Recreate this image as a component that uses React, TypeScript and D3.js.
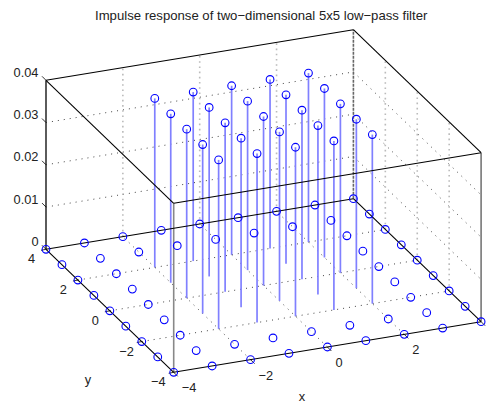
import React from "react";
import * as d3 from "d3";

const title = "Impulse response of two\u2212dimensional 5x5 low\u2212pass filter";
const gridX = [-4, -3, -2, -1, 0, 1, 2, 3, 4];
const gridY = [-4, -3, -2, -1, 0, 1, 2, 3, 4];
// h[row y][col x], rows from y=-4 to y=4
const impulse = [
  [0, 0, 0, 0, 0, 0, 0, 0, 0],
  [0, 0, 0, 0, 0, 0, 0, 0, 0],
  [0, 0, 0.04, 0.04, 0.04, 0.04, 0.04, 0, 0],
  [0, 0, 0.04, 0.04, 0.04, 0.04, 0.04, 0, 0],
  [0, 0, 0.04, 0.04, 0.04, 0.04, 0.04, 0, 0],
  [0, 0, 0.04, 0.04, 0.04, 0.04, 0.04, 0, 0],
  [0, 0, 0.04, 0.04, 0.04, 0.04, 0.04, 0, 0],
  [0, 0, 0, 0, 0, 0, 0, 0, 0],
  [0, 0, 0, 0, 0, 0, 0, 0, 0],
];
const xTicks = [-4, -2, 0, 2];
const xGrid = [-4, -2, 0, 2, 4];
const yTicks = [-4, -2, 0, 2, 4];
const zTicks = [0, 0.01, 0.02, 0.03, 0.04];
const fmt = (v: number) => String(v).replace("-", "\u2212");

// orthographic projection: contribution of each data axis to screen position
const xToPx = d3.scaleLinear().domain([-4, 4]).range([0, 307.4]);
const xToPy = d3.scaleLinear().domain([-4, 4]).range([0, -50.6]);
const yToPx = d3.scaleLinear().domain([-4, 4]).range([0, -127.7]);
const yToPy = d3.scaleLinear().domain([-4, 4]).range([0, -123]);
const zToPy = d3.scaleLinear().domain([0, 0.04]).range([0, -169]);
const origin = [173.7, 372.3];

function P(x: number, y: number, z: number): [number, number] {
  return [
    origin[0] + xToPx(x) + yToPx(y),
    origin[1] + xToPy(x) + yToPy(y) + zToPy(z),
  ];
}

const FONT = "'Liberation Sans', Arial, Helvetica, sans-serif";
const BLUE = "#0000ff";
const STEM = "#8080ff";

function L({ a, b, ...rest }: { a: [number, number]; b: [number, number]; [k: string]: any }) {
  return <line x1={a[0]} y1={a[1]} x2={b[0]} y2={b[1]} {...rest} />;
}

const dotted = { stroke: "#444", strokeWidth: 1, strokeDasharray: "1 5" };
const dottedV = { stroke: "#bbb", strokeWidth: 1.6, strokeDasharray: "1.6 3.6" };
const edge = { stroke: "#000", strokeWidth: 1.1 };
const T = 0.04;

export default function App() {
  const points = gridY.flatMap((y, r) => gridX.map((x, c) => ({ x, y, z: impulse[r][c] })));
  return (
    <svg
      width={489}
      height={403}
      viewBox="0 0 489 403"
      style={{ position: "absolute", left: 0, top: 0, background: "#fff" }}
      fontFamily={FONT}
      fontSize={12.8}
      fill="#222"
    >
      <text x={95} y={19.5} fontSize={13.15}>{title}</text>

      {/* floor grid */}
      {xGrid.slice(1, 4).map((x) => <L key={"fx" + x} a={P(x, -4, 0)} b={P(x, 4, 0)} {...dotted} />)}
      {yTicks.slice(1, 4).map((y) => <L key={"fy" + y} a={P(-4, y, 0)} b={P(4, y, 0)} {...dotted} />)}

      {/* back walls: z grid */}
      {zTicks.slice(1, 4).map((z) => (
        <g key={"wz" + z}>
          <L a={P(-4, 4, z)} b={P(4, 4, z)} {...dotted} />
          <L a={P(4, 4, z)} b={P(4, -4, z)} {...dotted} />
        </g>
      ))}
      {/* back walls: vertical grid */}
      {xGrid.slice(1, 4).map((x) => <L key={"wx" + x} a={P(x, 4, 0)} b={P(x, 4, T)} {...dottedV} />)}
      {yTicks.slice(1, 4).map((y) => <L key={"wy" + y} a={P(4, y, 0)} b={P(4, y, T)} {...dottedV} />)}

      {/* stems */}
      {points.filter((p) => p.z > 0).map((p) => (
        <L key={`s${p.x}_${p.y}`} a={P(p.x, p.y, 0)} b={P(p.x, p.y, p.z)} stroke={STEM} strokeWidth={1.7} />
      ))}

      {/* verticals */}
      <L a={P(-4, 4, 0)} b={P(-4, 4, T)} stroke="#333" strokeWidth={1.6} />
      <L a={P(-4, -4, 0)} b={P(-4, -4, T)} stroke="#888" strokeWidth={1.6} />
      <L a={P(4, -4, 0)} b={P(4, -4, T)} stroke="#777" strokeWidth={1.6} />
      <L a={P(4, 4, 0)} b={P(4, 4, T)} stroke="#666" strokeWidth={1.6} strokeDasharray="3 1" />

      {/* box edges */}
      <L a={P(-4, 4, 0)} b={P(-4, -4, 0)} {...edge} />
      <L a={P(-4, -4, 0)} b={P(4, -4, 0)} {...edge} />
      <L a={P(4, -4, 0)} b={P(4, 4, 0)} {...edge} />
      <L a={P(4, 4, 0)} b={P(-4, 4, 0)} {...edge} />
      <L a={P(-4, 4, T)} b={P(-4, -4, T)} {...edge} />
      <L a={P(-4, -4, T)} b={P(4, -4, T)} {...edge} />
      <L a={P(4, -4, T)} b={P(4, 4, T)} {...edge} />
      <L a={P(4, 4, T)} b={P(-4, 4, T)} {...edge} />

      {/* ticks */}
      {zTicks.map((z) => {
        const [px, py] = P(-4, 4, z);
        return <line key={"tz" + z} x1={px} y1={py} x2={px - 4} y2={py - 4} stroke="#000" strokeWidth={0.8} />;
      })}
      {yTicks.map((y) => {
        const [px, py] = P(-4, y, 0);
        return <line key={"ty" + y} x1={px} y1={py} x2={px - 5} y2={py + 1} stroke="#000" strokeWidth={0.8} />;
      })}
      {xGrid.map((x) => {
        const [px, py] = P(x, -4, 0);
        return <line key={"tx" + x} x1={px} y1={py} x2={px + 4} y2={py + 4} stroke="#000" strokeWidth={0.8} />;
      })}

      {/* stem heads */}
      {points.map((p) => {
        const [cx, cy] = P(p.x, p.y, p.z);
        return <circle key={`c${p.x}_${p.y}`} cx={cx} cy={cy} r={3.85} fill="none" stroke={BLUE} strokeWidth={1.1} />;
      })}

      {/* labels */}
      {zTicks.map((z) => {
        const [px, py] = P(-4, 4, z);
        return <text key={"lz" + z} x={px - 7.5} y={py - 3.5} textAnchor="end">{z === 0 ? "0" : z.toFixed(2)}</text>;
      })}
      {yTicks.map((y) => {
        const [px, py] = P(-4, y, 0);
        return <text key={"ly" + y} x={px - (y < 0 ? 8 : 11)} y={py + 14} textAnchor="end">{fmt(y)}</text>;
      })}
      {xTicks.map((x) => {
        const [px, py] = P(x, -4, 0);
        return <text key={"lx" + x} x={px + 8} y={py + 20} textAnchor="start">{fmt(x)}</text>;
      })}
      <text x={88} y={384} textAnchor="middle">y</text>
      <text x={302} y={400.5} textAnchor="middle">x</text>
    </svg>
  );
}
